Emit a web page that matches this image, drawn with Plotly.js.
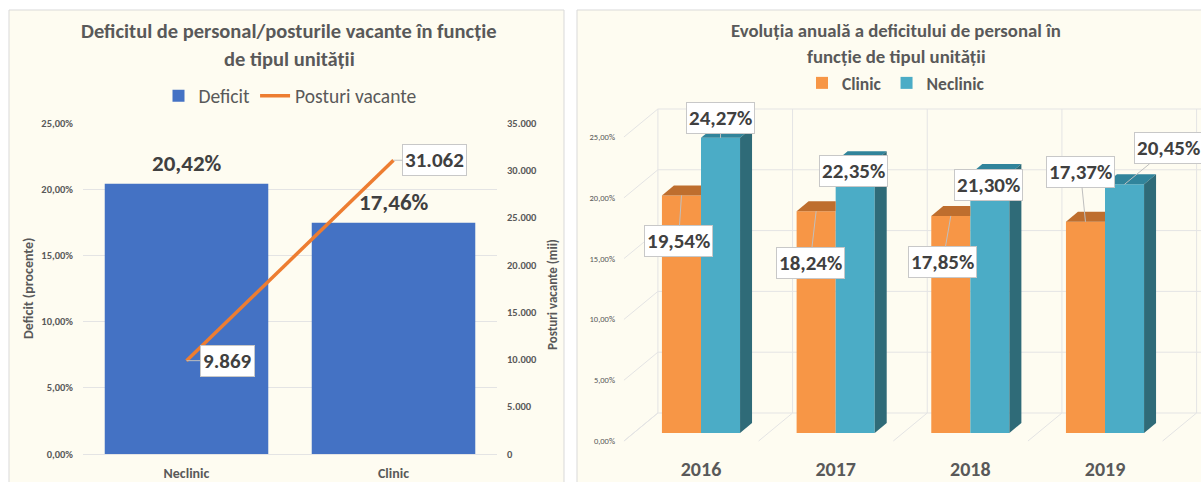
<!DOCTYPE html>
<html>
<head>
<meta charset="utf-8">
<script src="https://cdn.plot.ly/plotly-3.0.1.min.js"></script>
<style>html,body{margin:0;padding:0;background:#fff;}#chart{width:1201px;height:482px;}</style>
</head>
<body>
<div id="chart"></div>
<script>
// ---------- data ----------
const leftCategories = ['Neclinic', 'Clinic'];
const deficitPct = [20.42, 17.46];
const posturiVacante = [9869, 31062];
const leftPctTicks = [0, 5, 10, 15, 20, 25];
const leftCountTicks = [0, 5000, 10000, 15000, 20000, 25000, 30000, 35000];

const years = ['2016', '2017', '2018', '2019'];
const clinicPct = [19.54, 18.24, 17.85, 17.37];
const neclinicPct = [24.27, 22.35, 21.30, 20.45];
const rightPctTicks = [0, 5, 10, 15, 20, 25];

// ---------- helpers ----------
const FONT = "Carlito, 'Liberation Sans Narrow', 'DejaVu Sans Condensed', sans-serif";
const GREY = '#595959', DARK = '#404040', GRID = '#E4E4E4';
function pct(v) { return v.toFixed(2).replace('.', ',') + '%'; }
function thousands(v) { return String(Math.round(v)).replace(/\B(?=(\d{3})+(?!\d))/g, '.'); }
const W = 1201, H = 482;
const px = v => v / W, py = v => (H - v) / H;

// ---------- geometry of the 3D look (right chart), in axis units ----------
const yearPos = years.map((_, i) => i);
const BW = 0.29;                 // bar width (category units)
const DX = 0.089, DY = 0.82;     // bar depth offset
const BX = 0.18, BY = 1.645;     // back wall offset from bar plane
const LX = -0.072, LY = -0.658;  // floor front edge offset from bar plane
const X3MIN = -0.5866, X3MAX = 3.7128;

const traces = [
  { type: 'bar', x: leftCategories, y: deficitPct, name: 'Deficit',
    marker: { color: '#4472C4' }, xaxis: 'x', yaxis: 'y', hoverinfo: 'skip' },
  { type: 'scatter', mode: 'lines', x: leftCategories, y: posturiVacante, name: 'Posturi vacante',
    line: { color: '#ED7D31', width: 3.5 }, xaxis: 'x', yaxis: 'y2', hoverinfo: 'skip' },
  { type: 'bar', x: yearPos, y: clinicPct, name: 'Clinic', width: BW, offset: -BW,
    marker: { color: '#F79646' }, xaxis: 'x3', yaxis: 'y4', legend: 'legend2', hoverinfo: 'skip' },
  { type: 'bar', x: yearPos, y: neclinicPct, name: 'Neclinic', width: BW, offset: 0,
    marker: { color: '#4BACC6' }, xaxis: 'x3', yaxis: 'y4', legend: 'legend2', hoverinfo: 'skip' },
  { type: 'scatter', mode: 'none', x: [], y: [], xaxis: 'x3', yaxis: 'y3', showlegend: false, hoverinfo: 'skip' }
];

const shapes = [
  { type: 'rect', xref: 'paper', yref: 'paper', x0: px(9), x1: px(564), y0: py(490), y1: py(10),
    fillcolor: '#FEFCF1', line: { color: '#D9D9D9', width: 1 }, layer: 'below' },
  { type: 'rect', xref: 'paper', yref: 'paper', x0: px(577), x1: px(1210), y0: py(490), y1: py(10),
    fillcolor: '#FEFCF1', line: { color: '#D9D9D9', width: 1 }, layer: 'below' }
];
function line3(x0, y0, x1, y1) {
  shapes.push({ type: 'line', xref: 'x3', yref: 'y4', x0, y0, x1, y1, layer: 'below',
    line: { color: GRID, width: 1 } });
}
// back wall horizontal grid + side wall diagonals
rightPctTicks.forEach(L => {
  line3(-0.5 + BX, L + BY, X3MAX, L + BY);
  line3(-0.5 + LX, L + LY, -0.5 + BX, L + BY);
});
// back wall verticals + floor diagonals at category boundaries
for (let k = 0; k <= years.length; k++) {
  const b = -0.5 + k;
  line3(b + BX, BY, b + BX, rightPctTicks[rightPctTicks.length - 1] + BY);
  line3(b + LX, LY, b + BX, BY);
}
function poly(pts, color) {
  shapes.push({ type: 'path', xref: 'x3', yref: 'y4', layer: 'above', fillcolor: color,
    line: { width: 0 }, path: 'M' + pts.map(p => p[0] + ',' + p[1]).join(' L') + ' Z' });
}
yearPos.forEach((x, i) => {
  const c = clinicPct[i], n = neclinicPct[i];
  // clinic top face (right part hidden behind taller neclinic bar)
  poly([[x - BW, c], [x, c], [x, c + DY], [x - BW + DX, c + DY]], '#BE6E2E');
  // neclinic top and side faces
  poly([[x, n], [x + BW, n], [x + BW + DX, n + DY], [x + DX, n + DY]], '#31849B');
  poly([[x + BW, 0], [x + BW, n], [x + BW + DX, n + DY], [x + BW + DX, DY]], '#2F6B78');
});

const annotations = [];
function txt(text, x, y, size, opts) {
  annotations.push(Object.assign({ xref: 'paper', yref: 'paper', x: px(x), y: py(y), text,
    showarrow: false, xanchor: 'center', yanchor: 'middle',
    font: { family: FONT, size, color: GREY, weight: 'bold' } }, opts || {}));
}
txt('Deficitul de personal/posturile vacante în funcție', 289, 31, 20.5);
txt('de tipul unității', 289, 59, 20.5);
txt('Deficit (procente)', 28, 289, 14, { textangle: -90 });
txt('Posturi vacante (mii)', 552, 295, 13, { textangle: -90 });
txt('Evoluția anuală a deficitului de personal în', 896, 31, 18.8);
txt('funcție de tipul unității', 896, 56, 18.8);

// left chart value labels
leftCategories.forEach((c, i) => {
  annotations.push({ xref: 'x', yref: 'y', x: c, y: deficitPct[i], text: pct(deficitPct[i]),
    showarrow: false, yanchor: 'middle', yshift: 21,
    font: { family: FONT, size: 23, color: DARK, weight: 'bold' } });
});
const callout = { showarrow: true, arrowhead: 0, arrowwidth: 1, arrowcolor: '#BFBFBF',
  bgcolor: '#FFFFFF', bordercolor: '#C8C8C8', borderwidth: 1, borderpad: 2 };
leftCategories.forEach((c, i) => {
  annotations.push(Object.assign({ xref: 'x', yref: 'y2', x: c, y: posturiVacante[i],
    text: thousands(posturiVacante[i]), ax: 41, ay: 0,
    font: { family: FONT, size: 21, color: DARK, weight: 'bold' } }, callout));
});
// right chart callouts: offsets of the label boxes (px)
const clinicOff = [[-3, 46], [-6, 52], [-8, 46], [-5, -50]];
const neclinicOff = [[0, -20], [-2, 10], [-1, 11], [44, -36]];
yearPos.forEach((x, i) => {
  annotations.push(Object.assign({ xref: 'x3', yref: 'y4', x: x - BW / 2, y: clinicPct[i],
    text: pct(clinicPct[i]), ax: clinicOff[i][0], ay: clinicOff[i][1],
    font: { family: FONT, size: 21, color: DARK, weight: 'bold' } }, callout));
  annotations.push(Object.assign({ xref: 'x3', yref: 'y4', x: x + BW / 2, y: neclinicPct[i],
    text: pct(neclinicPct[i]), ax: neclinicOff[i][0], ay: neclinicOff[i][1],
    font: { family: FONT, size: 21, color: DARK, weight: 'bold' } }, callout));
});

const tickFont = { family: FONT, size: 10.5, color: GREY, weight: 'bold' };
const layout = {
  width: W, height: H, margin: { l: 0, r: 0, t: 0, b: 0 },
  paper_bgcolor: '#FFFFFF', plot_bgcolor: 'rgba(0,0,0,0)',
  separators: ',.', bargap: 0.21, showlegend: true,
  font: { family: FONT, color: GREY },
  xaxis: { domain: [px(83), px(497)], anchor: 'y', type: 'category', showgrid: false,
    zeroline: false, showline: false, ticks: '', ticklabelstandoff: 9,
    tickfont: { family: FONT, size: 14, color: GREY, weight: 'bold' } },
  yaxis: { domain: [py(454), py(123)], anchor: 'x', range: [0, 25], tickvals: leftPctTicks,
    ticktext: leftPctTicks.map(pct), showgrid: true, gridcolor: GRID, zeroline: true,
    zerolinecolor: GRID, showline: false, ticks: '', ticklabelstandoff: 9, tickfont: tickFont },
  yaxis2: { overlaying: 'y', side: 'right', anchor: 'x', range: [0, 35000], tickvals: leftCountTicks,
    ticktext: leftCountTicks.map(thousands), showgrid: false, zeroline: false, showline: false,
    ticks: '', ticklabelstandoff: 9, tickfont: tickFont },
  xaxis3: { domain: [px(622), 1], anchor: 'y4', range: [X3MIN, X3MAX], tickvals: yearPos,
    ticktext: years, showgrid: false, zeroline: false, showline: false, ticks: '',
    ticklabelstandoff: 10, tickfont: { family: FONT, size: 20, color: GREY, weight: 'bold' } },
  yaxis3: { domain: [py(441), py(137)], anchor: 'x3', range: [0, 25], tickvals: rightPctTicks,
    ticktext: rightPctTicks.map(pct), showgrid: false, zeroline: false, showline: false,
    ticks: '', ticklabelstandoff: 6, tickfont: { family: FONT, size: 8.5, color: GREY } },
  yaxis4: { domain: [py(445.16), py(92.5)], anchor: 'x3', range: [-1, 28], showgrid: false,
    zeroline: false, showline: false, showticklabels: false },
  legend: { orientation: 'h', x: px(290), y: py(96), xanchor: 'center', yanchor: 'middle',
    bgcolor: 'rgba(0,0,0,0)', font: { family: FONT, size: 19.5, color: GREY }, traceorder: 'normal' },
  legend2: { orientation: 'h', x: px(896), y: py(83), xanchor: 'center', yanchor: 'middle',
    bgcolor: 'rgba(0,0,0,0)', font: { family: FONT, size: 17.5, color: GREY, weight: 'bold' } },
  shapes, annotations
};
Plotly.newPlot('chart', traces, layout, { staticPlot: true, displayModeBar: false });
</script>
</body>
</html>
